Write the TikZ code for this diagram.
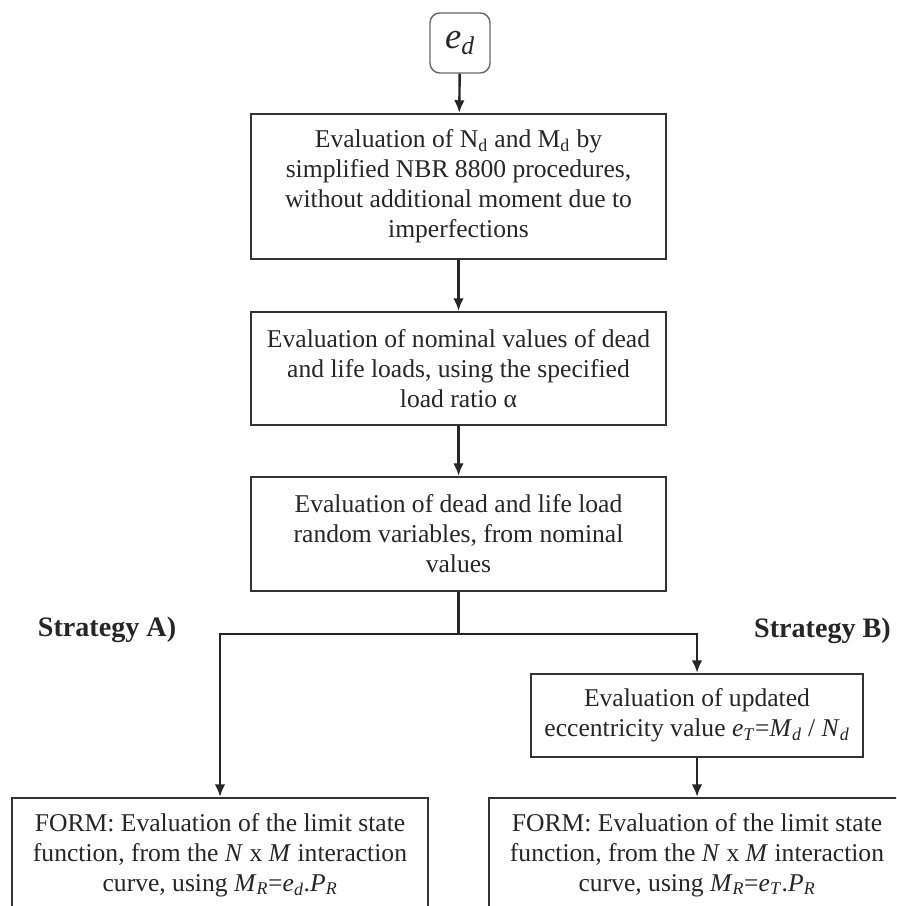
\documentclass[tikz,border=0pt]{standalone}
\usepackage{fontspec}
\setmainfont{Liberation Serif}
\usetikzlibrary{arrows.meta}
\newcommand{\itsub}[2]{\textit{#1}\textsubscript{\textit{#2}}}
\tikzset{
	evalbox/.style = {draw = black!80, line width = 1.5pt, align = center, inner sep = 2pt, font = \fontsize{18.2}{21.3}\selectfont},
	flow/.style = {draw = black!85, line width = 1.7pt, -{Latex[length=9pt, width=7.5pt]}},
	stratlabel/.style = {font = \fontsize{20}{24}\selectfont\bfseries, anchor = base}
}
\begin{document}
\begin{tikzpicture}[x = 0.025cm, y = -0.025cm, text = black!85]
	\useasboundingbox (0,0) rectangle (896,906);
	\clip (0,0) rectangle (896,906);
	\node[draw = black!60, line width = 1pt, rounded corners = 7pt, minimum width = 1.5cm, minimum height = 1.5cm, font = \fontsize{26}{26}\selectfont] (ed) at (460,43) {\itsub{e}{d}};
	\node[evalbox, minimum width = 10.375cm, minimum height = 3.625cm] (nd) at (458.5,186.5) {Evaluation of N\textsubscript{d} and M\textsubscript{d} by\\ simplified NBR 8800 procedures,\\ without additional moment due to\\ imperfections};
	\node[evalbox, minimum width = 10.375cm, minimum height = 2.825cm] (nominal) at (458.5,368.5) {Evaluation of nominal values of dead\\ and life loads, using the specified\\ load ratio α};
	\node[evalbox, minimum width = 10.375cm, minimum height = 2.85cm] (random) at (458.5,534) {Evaluation of dead and life load\\ random variables, from nominal\\ values};
	\node[stratlabel] (stratA) at (107,636) {Strategy A)};
	\node[stratlabel] (stratB) at (822.5,637) {Strategy B)};
	\node[evalbox, minimum width = 8.3cm, minimum height = 2.075cm] (update) at (697,715.5) {Evaluation of updated\\ eccentricity value \itsub{e}{T}=\itsub{M}{d} / \itsub{N}{d}};
	\node[evalbox, minimum width = 10.4cm, minimum height = 2.85cm] (formA) at (220,855) {FORM: Evaluation of the limit state\\ function, from the \textit{N} x \textit{M} interaction\\ curve, using \itsub{M}{R}=\itsub{e}{d}.\itsub{P}{R}};
	\node[evalbox, minimum width = 10.4cm, minimum height = 2.85cm] (formB) at (697,855) {FORM: Evaluation of the limit state\\ function, from the \textit{N} x \textit{M} interaction\\ curve, using \itsub{M}{R}=\itsub{e}{T}.\itsub{P}{R}};
	\coordinate (split) at (458.5,634);
	\draw[flow] (ed) -- (nd);
	\draw[flow] (nd) -- (nominal);
	\draw[flow] (nominal) -- (random);
	\draw[draw = black!85, line width = 1.7pt] (random) -- (split);
	\draw[flow] (split) -| (formA);
	\draw[flow] (split) -| (update);
	\draw[flow] (update) -- (formB);
\end{tikzpicture}
\end{document}
